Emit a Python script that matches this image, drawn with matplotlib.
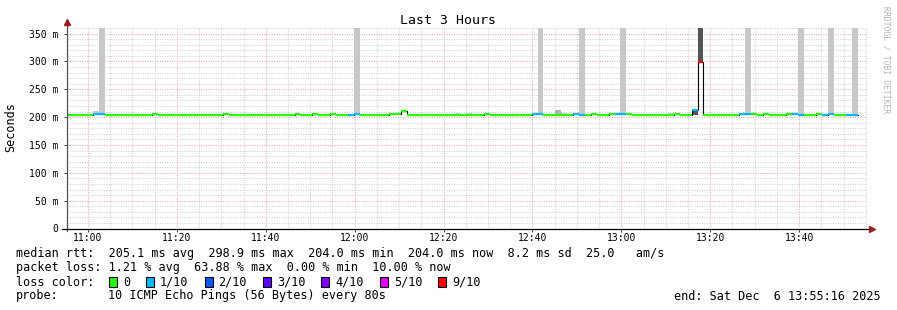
import numpy as np
import matplotlib
matplotlib.use("Agg")
import matplotlib.pyplot as plt
import matplotlib.dates as mdates
from matplotlib.ticker import MultipleLocator, FuncFormatter
from matplotlib.patches import Rectangle

MONO = "DejaVu Sans Mono"

# rrd bins are 80 s wide, first (partly visible) bin starts here
STEP_S = 80
FIRST_BIN = np.datetime64("2025-12-06T10:54:28")
T_START = np.datetime64("2025-12-06T10:55:16")
T_END = np.datetime64("2025-12-06T13:55:16")

# median rtt per bin, ms
median_ms = [
    204, 204, 204, 204, 204, 206, 206, 204, 204, 204,
    204, 204, 204, 204, 204, 206, 204, 204, 204, 204,
    204, 204, 204, 204, 204, 204, 204, 206, 204, 204,
    204, 204, 204, 204, 204, 204, 204, 204, 204, 206,
    204, 204, 206, 204, 204, 206, 204, 204, 204, 206,
    204, 204, 204, 204, 204, 206, 205, 211.5, 204, 204,
    204, 204, 204, 204, 204, 204, 204, 204, 204, 204,
    204, 206, 204, 204, 204, 204, 204, 204, 204, 206,
    206, 204, 204, 204, 204, 204, 206, 204, 204, 206,
    204, 204, 206, 206, 206, 206, 204, 204, 204, 204,
    204, 204, 204, 206, 204, 204, 213, 298.9, 204, 204,
    204, 204, 204, 204, 206, 206, 206, 204, 206, 204,
    204, 204, 206, 206, 204, 204, 204, 206, 204, 206,
    204, 204, 204, 204,
]

# lost pings out of 10 per bin
loss_tenths = [
    0, 0, 0, 0, 0, 1, 1, 0, 0, 0,
    0, 0, 0, 0, 0, 0, 0, 0, 0, 0,
    0, 0, 0, 0, 0, 0, 0, 0, 0, 0,
    0, 0, 0, 0, 0, 0, 0, 0, 0, 0,
    0, 0, 0, 0, 0, 0, 0, 0, 1, 1,
    0, 0, 0, 0, 0, 0, 0, 0, 0, 0,
    0, 0, 0, 0, 0, 0, 0, 0, 0, 0,
    0, 0, 0, 0, 0, 0, 0, 0, 0, 1,
    1, 0, 0, 0, 0, 0, 1, 1, 0, 0,
    0, 0, 0, 1, 1, 0, 0, 0, 0, 0,
    0, 0, 0, 0, 0, 0, 1, 9, 0, 0,
    0, 0, 0, 0, 1, 1, 0, 0, 0, 0,
    0, 0, 0, 1, 1, 0, 0, 0, 1, 1,
    0, 0, 1, 1,
]

# smoke: (bin, low ms, high ms, shade)
smoke = [
    (5, 204, 211, "#cdcdcd"), (6, 206, 400, "#c8c8c8"),
    (49, 206, 400, "#c8c8c8"), (66, 204, 207.5, "#cdcdcd"),
    (68, 204, 207, "#cdcdcd"), (80, 206, 400, "#c8c8c8"),
    (83, 204, 212, "#b0b0b0"), (84, 204, 206.5, "#cdcdcd"),
    (87, 204, 400, "#c8c8c8"), (94, 206, 400, "#c8c8c8"),
    (102, 204, 207, "#cdcdcd"), (106, 204, 213, "#555555"),
    (107, 298.9, 400, "#555555"), (115, 206, 400, "#c8c8c8"),
    (124, 204, 400, "#c8c8c8"), (129, 206, 400, "#c8c8c8"),
    (133, 204, 400, "#c8c8c8"),
]

loss_labels = ["0", "1/10", "2/10", "3/10", "4/10", "5/10", "9/10"]
loss_colors = ["#26ff00", "#00b8ff", "#0059ff", "#5e00ff", "#7e00ff", "#dd00ff", "#ff0000"]
color_for_loss = {0: "#26ff00", 1: "#00b8ff", 2: "#0059ff", 3: "#5e00ff",
                  4: "#7e00ff", 5: "#dd00ff", 9: "#ff0000"}

rtt_line = "median rtt:  205.1 ms avg  298.9 ms max  204.0 ms min  204.0 ms now  8.2 ms sd  25.0   am/s"
loss_line = "packet loss: 1.21 % avg  63.88 % max  0.00 % min  10.00 % now"
probe_text = "10 ICMP Echo Pings (56 Bytes) every 80s"
end_text = "end: Sat Dec  6 13:55:16 2025"

W, H = 897, 310
fig = plt.figure(figsize=(W / 100, H / 100), dpi=100)
fig.patch.set_facecolor("white")

# plot area in pixels: x 67..867, y 28..228.5
ax = fig.add_axes([67 / W, (H - 228.5) / H, 800 / W, 200.5 / H])

n = len(median_ms)
edges = mdates.date2num(FIRST_BIN + np.arange(n + 1) * np.timedelta64(STEP_S, "s"))
left, right = edges[:-1], edges[1:]
med = np.array(median_ms, dtype=float)

for idx, lo, hi, shade in smoke:
    ax.bar(left[idx], hi - lo, width=right[idx] - left[idx], bottom=lo,
           align="edge", color=shade, linewidth=0, zorder=2)

ax.step(edges, np.append(med, med[-1]), where="post", color="black", lw=0.8, zorder=3)
ax.hlines(med, left, right, colors=[color_for_loss[l] for l in loss_tenths], lw=1.6, zorder=4)

ax.set_xlim(mdates.date2num(T_START), mdates.date2num(T_END))
ax.set_ylim(0, 360)

ax.xaxis.set_major_locator(mdates.MinuteLocator(byminute=[0, 20, 40]))
ax.xaxis.set_minor_locator(mdates.MinuteLocator(byminute=range(0, 60, 5)))
ax.xaxis.set_major_formatter(mdates.DateFormatter("%H:%M"))
ax.yaxis.set_major_locator(MultipleLocator(50))
ax.yaxis.set_minor_locator(MultipleLocator(10))
ax.yaxis.set_major_formatter(FuncFormatter(lambda v, p: "0" if v == 0 else f"{v:.0f} m"))

ax.set_axisbelow(True)
ax.grid(which="minor", color="#cccccc", ls=(0, (1, 1.5)), lw=0.7)
ax.grid(which="major", color="#f0a0a0", ls=(0, (1, 1.5)), lw=0.7)

for s in ax.spines.values():
    s.set_visible(False)
ax.tick_params(which="both", direction="out", colors="#404040", labelcolor="black",
               labelsize=7, width=0.7)
ax.tick_params(axis="x", which="major", length=2, pad=1.5)
ax.tick_params(axis="y", which="major", length=2, pad=4)
ax.tick_params(which="minor", length=0)
for lab in ax.get_xticklabels() + ax.get_yticklabels():
    lab.set_family(MONO)

# axes with arrow heads
ax.plot([0, 0], [-0.012, 1.025], transform=ax.transAxes, color="#505050", lw=0.9,
        clip_on=False, zorder=6)
ax.plot([-0.006, 1.003], [0, 0], transform=ax.transAxes, color="black", lw=0.9,
        clip_on=False, zorder=6)
ax.plot([0], [1.03], marker="^", ms=4.5, color="#9b1c1c", transform=ax.transAxes,
        clip_on=False, zorder=7)
ax.plot([1.006], [0], marker=">", ms=4.5, color="#9b1c1c", transform=ax.transAxes,
        clip_on=False, zorder=7)

fig.text(448 / W, 1 - 20 / H, "Last 3 Hours", ha="center", va="center",
         fontsize=9.5, family=MONO)
fig.text(11 / W, 1 - 127 / H, "Seconds", rotation=90, ha="center", va="center",
         fontsize=8.5, family=MONO)
fig.text(886 / W, 1 - 60 / H, "RRDTOOL / TOBI OETIKER", rotation=270, ha="center",
         va="center", fontsize=5.8, family=MONO, color="#b4b4b4")

LEG = 8.5
fig.text(16 / W, 1 - 254 / H, rtt_line, ha="left", va="center", fontsize=LEG, family=MONO)
fig.text(16 / W, 1 - 268 / H, loss_line, ha="left", va="center", fontsize=LEG, family=MONO)
fig.text(16 / W, 1 - 282 / H, "loss color:", ha="left", va="center", fontsize=LEG, family=MONO)
bx = 109
for lab, col in zip(loss_labels, loss_colors):
    fig.add_artist(Rectangle((bx / W, 1 - 287 / H), 8 / W, 10 / H, facecolor=col,
                             edgecolor="black", lw=0.8, transform=fig.transFigure))
    fig.text((bx + 14) / W, 1 - 282 / H, lab, ha="left", va="center", fontsize=LEG, family=MONO)
    bx += 14 + len(lab) * 7.1 + 16
fig.text(16 / W, 1 - 296 / H, "probe:", ha="left", va="center", fontsize=LEG, family=MONO)
fig.text(108 / W, 1 - 296 / H, probe_text, ha="left", va="center", fontsize=LEG, family=MONO)
fig.text(881 / W, 1 - 296 / H, end_text, ha="right", va="center", fontsize=LEG, family=MONO)

fig.savefig("out.png", dpi=100)
